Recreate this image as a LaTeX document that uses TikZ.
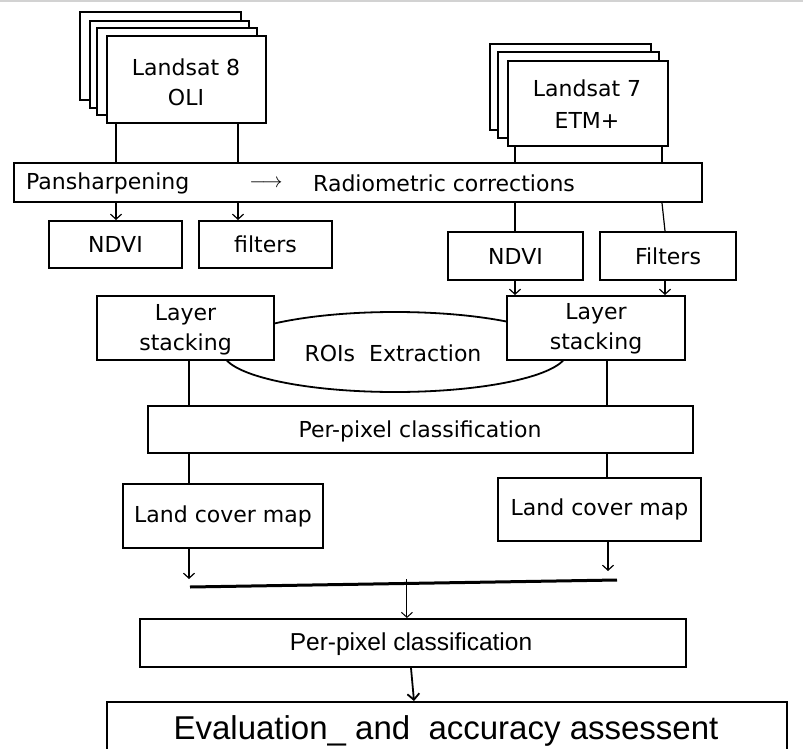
\documentclass[tikz,border=0pt]{standalone}
\usepackage{fontspec}
\setmainfont{DejaVu Sans}
\newfontfamily\arialf{Liberation Sans}
\usetikzlibrary{arrows.meta,calc,fit,shapes.geometric}
\begin{document}
\begin{tikzpicture}[x=1pt,y=-1pt,
  box/.style={draw,line width=2pt,fill=white,inner sep=0pt},
  conn/.style={line width=1.2pt},
  arr/.style={line width=1.2pt,-{Straight Barb[length=5pt,width=11pt,line width=1.2pt]}},
  lbl/.style={inner sep=0pt,align=center,font=\fontsize{22}{30}\selectfont}]
\useasboundingbox (0,0) rectangle (803,749);
\clip (0,0) rectangle (803,749);
\fill[white] (0,0) rectangle (803,749);
\draw[gray!35,line width=1.5pt] (0,0.8) -- (803,0.8);
% Landsat 8 stack
\node[box,fit={(80,12) (241,100)}] (l8a) {};
\node[box,fit={(90,21) (249,108)}] (l8b) {};
\node[box,fit={(97,28) (257,115)}] (l8c) {};
\node[box,fit={(107,36) (266,123)}] (l8) {};
\node[lbl] (l8t) at (186,82) {Landsat 8\\OLI};
% Landsat 7 stack
\node[box,fit={(490,44) (651,130)}] (l7a) {};
\node[box,fit={(498,52) (659,138)}] (l7b) {};
\node[box,fit={(508,61) (668,146)}] (l7) {};
\node[lbl,font=\fontsize{22}{32}\selectfont] (l7t) at (587,104) {Landsat 7\\ETM+};
% bar
\node[box,fit={(14,163) (702,202)}] (bar) {};
\node[lbl,anchor=west] (pan) at (26,183) {Pansharpening};
\node[lbl,font=\fontsize{20}{24}\selectfont] (parr) at (266,184) {$\longrightarrow$};
\node[lbl,anchor=west] (rad) at (313,183) {Radiometric corrections};
% NDVI / filters
\node[box,fit={(49,221) (182,268)}] (ndvia) {};
\node[lbl] (ndviat) at (ndvia) {NDVI};
\node[box,fit={(199,221) (332,268)}] (filta) {};
\node[lbl] (filtat) at (filta) {filters};
\node[box,fit={(448,232) (583,280)}] (ndvib) {};
\node[lbl] (ndvibt) at (ndvib) {NDVI};
\node[box,fit={(600,232) (736,280)}] (filtb) {};
\node[lbl] (filtbt) at (filtb) {Filters};
% ROI ellipse
\node[draw,ellipse,line width=1.8pt,minimum width=344pt,minimum height=80pt,inner sep=0pt] (roi) at (395,352) {};
\node[lbl] (roit) at (393,353) {ROIs\ \ Extraction};
% layer stacking
\node[box,fit={(97,296) (274,360)}] (lsa) {};
\node[lbl] (lsat) at ($(lsa)+(0,2)$) {Layer\\stacking};
\node[box,fit={(507,296) (685,360)}] (lsb) {};
\node[lbl] (lsbt) at ($(lsb)+(0,1)$) {Layer\\stacking};
% per-pixel 1
\node[box,fit={(148,406) (693,453)}] (ppa) {};
\node[lbl] (ppat) at (420,431) {Per-pixel classification};
% land cover maps
\node[box,fit={(123,484) (323,548)}] (lca) {};
\node[lbl] (lcat) at (lca) {Land cover map};
\node[box,fit={(498,478) (701,541)}] (lcb) {};
\node[lbl] (lcbt) at (lcb) {Land cover map};
% per-pixel 2
\node[box,fit={(140,619) (686,667)}] (ppb) {};
\node[lbl,font=\arialf\fontsize{24.5}{28}\selectfont] (ppbt) at (411,644) {Per-pixel classification};
% evaluation
\node[box,fit={(107,702) (787,770)}] (ev) {};
\node[lbl,font=\arialf\fontsize{33}{38}\selectfont] (evt) at (446,731) {Evaluation\_ and\ \ accuracy assessent};
% connectors
\coordinate (xa) at ($(l8.south west)+(10,0)$);
\coordinate (xb) at ($(l8.south east)+(-29,0)$);
\coordinate (xc) at ($(l7.south west)+(8,0)$);
\coordinate (xd) at ($(l7.south east)+(-7,0)$);
\draw[conn] (xa) -- (xa |- bar.north);
\draw[conn] (xb) -- (xb |- bar.north);
\draw[conn] (xc) -- (xc |- bar.north);
\draw[conn] (xd) -- (xd |- bar.north);
\draw[arr] (bar.south -| xa) -- (ndvia.north -| xa);
\draw[arr] (bar.south -| xb) -- (filta.north -| xb);
\draw[conn] (bar.south -| xc) -- (ndvib.north -| xc);
\draw[conn] (bar.south -| xd) -- ($(filtb.north -| xd)+(3,0)$);
\coordinate (xe) at ($(filtb.south west)+(66,0)$);
\draw[arr] (ndvib.south -| xc) -- (lsb.north -| xc);
\draw[arr] (xe) -- (lsb.north -| xe);
\coordinate (xf) at ($(lsa.south west)+(93,0)$);
\coordinate (xg) at ($(lsb.south west)+(101,0)$);
\draw[conn] (xf) -- (ppa.north -| xf);
\draw[conn] (xg) -- (ppa.north -| xg);
\draw[conn] (ppa.south -| xf) -- (lca.north -| xf);
\draw[conn] (ppa.south -| xg) -- (lcb.north -| xg);
\coordinate (j1) at (190,587);
\coordinate (j2) at (617,580);
\draw[arr] (lca.south -| xf) -- ($(lca.south -| xf)+(0,30)$);
\draw[arr] ($(lcb.south west)+(111,0)$) -- ($(lcb.south west)+(111,29)$);
\draw[line width=3pt] (j1) -- (j2);
\coordinate (jm) at ($(j1)!0.508!(j2)$);
\draw[line width=1pt,-{Straight Barb[length=5pt,width=11pt,line width=1pt]}] ($(jm)+(0,-4)$) -- (ppb.north -| jm);
\draw[line width=1.8pt,-{Straight Barb[length=6pt,width=12pt,line width=1.8pt]}] ($(ppb.south west)+(272,0)$) -- ($(ev.north west)+(308,0)$);
\end{tikzpicture}
\end{document}
